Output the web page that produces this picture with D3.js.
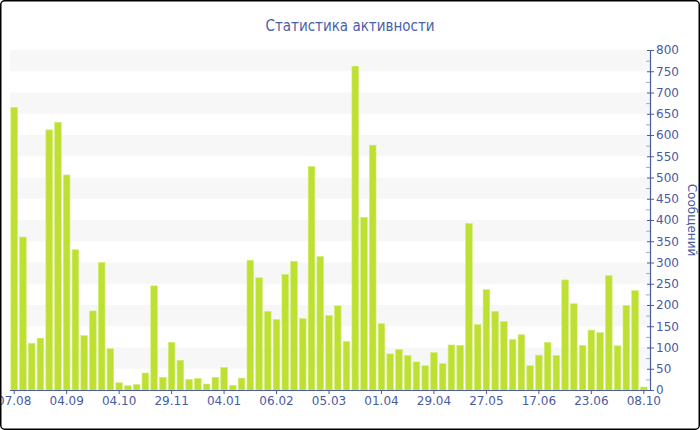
<!DOCTYPE html>
<html><head><meta charset="utf-8">
<script src="https://cdn.jsdelivr.net/npm/d3@7"></script>
<style>body{margin:0;background:#fff}svg{display:block}</style>
</head><body>
<script>
const title = "Статистика активности";
const yTitle = "Сообщений";
const values = [665,360,110,122,612,630,506,330,128,186,300,97,17,10,13,40,245,30,112,70,25,27,14,30,53,11,28,305,264,185,166,272,303,168,526,314,175,198,114,762,406,576,156,85,95,81,66,57,88,62,106,105,392,154,236,185,161,119,130,57,82,112,81,259,203,105,141,135,269,104,199,234,7];
const tickLabels = ["07.08","04.09","04.10","29.11","04.01","06.02","05.03","01.04","29.04","27.05","17.06","23.06","08.10"];
const tickEvery = 6;
const yTicks = [0,50,100,150,200,250,300,350,400,450,500,550,600,650,700,750,800];

const W=700,H=430;
const svg=d3.select("body").append("svg").attr("width",W).attr("height",H);
const blue="#4a5b9f";
const font="DejaVu Sans, Verdana, sans-serif";

const x=d3.scaleBand().domain(d3.range(values.length)).range([10,648]).paddingInner(0.24).paddingOuter(0.1);
const y=d3.scaleLinear().domain([0,800]).range([390,50]);

// bands
for(let v=50; v<800; v+=100){
  svg.append("rect").attr("x",10).attr("width",640).attr("y",y(v+50)).attr("height",y(v)-y(v+50)).attr("fill","#f7f7f7");
}

svg.append("g").selectAll("rect").data(values).join("rect")
  .attr("x",(d,i)=>x(i)).attr("width",x.bandwidth())
  .attr("y",d=>y(d)).attr("height",d=>y(0)-y(d))
  .attr("fill","#bde032").attr("stroke","#d4ec78").attr("stroke-width",0.6);

// y axis right
const yAx=svg.append("g").attr("transform","translate(650,0)")
  .call(d3.axisRight(y).tickValues(yTicks).tickSize(4).tickPadding(2).tickFormat(d3.format("d")));
yAx.select(".domain").attr("stroke",blue).attr("stroke-width",1.2);
yAx.selectAll(".tick line").attr("stroke",blue).attr("x1",-3);
yAx.selectAll("text").attr("fill",blue).attr("font-family",font).attr("font-size",12);
// minor ticks
svg.append("g").selectAll("line").data(d3.range(25,800,50)).join("line")
  .attr("x1",646).attr("x2",650).attr("y1",d=>y(d)+0.5).attr("y2",d=>y(d)+0.5)
  .attr("stroke","#a0a8c8");

// x axis
const tickIdx=d3.range(0,values.length,tickEvery);
const xAx=svg.append("g").attr("transform","translate(0,390)")
  .call(d3.axisBottom(x).tickValues(tickIdx).tickSize(4).tickPadding(2).tickFormat((d,i)=>tickLabels[i]));
xAx.select(".domain").attr("stroke",blue).attr("stroke-width",1.2).attr("d","M10,0.5H650");
xAx.selectAll(".tick line").attr("stroke",blue);
xAx.selectAll("text").attr("fill",blue).attr("font-family",font).attr("font-size",12);

svg.append("text").attr("x",350).attr("y",31).attr("text-anchor","middle")
  .attr("fill","#4a5fa8").attr("font-family","DejaVu Sans Condensed, DejaVu Sans, sans-serif").attr("font-size",15).text(title);

svg.append("text").attr("transform","translate(688,220) rotate(90)").attr("text-anchor","middle")
  .attr("fill",blue).attr("font-family",font).attr("font-size",12).text(yTitle);

svg.append("rect").attr("x",0.75).attr("y",0.75).attr("width",W-1.5).attr("height",H-1.5)
  .attr("rx",4).attr("fill","none").attr("stroke","#000").attr("stroke-width",1.5);
</script>
</body></html>
